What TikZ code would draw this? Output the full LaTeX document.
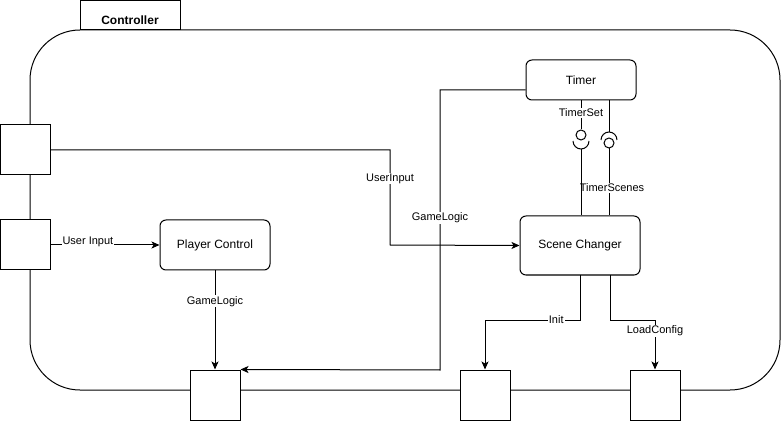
\documentclass[tikz,border=0pt]{standalone}
\usepackage{fontspec}
\setmainfont{Liberation Sans}
\usetikzlibrary{arrows.meta}

\tikzset{
    port/.style={draw, fill=white, minimum size=50pt, inner sep=0pt},
    part/.style={draw, fill=white, rounded corners=6pt, inner sep=0pt, font=\fontsize{12}{14}\selectfont},
    lbl/.style={fill=white, inner sep=1pt, font=\fontsize{11}{13}\selectfont},
    ball/.style={draw, circle, fill=white, minimum size=10pt, inner sep=0pt}
}

\begin{document}
\begin{tikzpicture}[x=1pt, y=-1pt, line width=1pt, >={Stealth[length=8pt,width=7pt,inset=2pt]}]
            \useasboundingbox (0,0) rectangle (782,422);

            % the controller frame with its tab
            \draw [rounded corners=50pt] (400,30) -- (780,30) -- (780,390) -- (30,390) -- (30,30) -- cycle;
            \draw (80,0.5) rectangle (180,30);
            \node [font=\bfseries\fontsize{12}{14}\selectfont] (title) at (130,20) {Controller};

            \node [port] (in1) at (25.5,150) {};
            \node [port] (in2) at (25.5,245) {};
            \node [port] (out1) at (215,395) {};
            \node [port] (out2) at (485,395) {};
            \node [port] (out3) at (655,395) {};

            \node [part, minimum width=110pt, minimum height=50pt] (player) at (215,245) {Player Control};
            \node [part, minimum width=120pt, minimum height=59pt] (scene) at (580,245.5) {Scene Changer};
            \node [part, minimum width=110pt, minimum height=40pt] (timer) at (581,80) {Timer};

            \draw [->] (in2) -- node [lbl, pos=.34, yshift=3pt] {User Input} (player);
            \draw [->] (in1.east) -- (390,150) -- node [lbl, pos=.3] {UserInput} (390,245) -- (scene.west);
            \draw [->] ([yshift=-10pt]timer.west) -- (440,90) -- node [lbl, pos=.457] {GameLogic} (440,370) -- (out1.north east);
            \draw [->] (player) -- node [lbl, pos=.31] {GameLogic} (out1);
            \draw [->] (scene.south) -- (580,320) -- node [lbl, pos=.25] {Init} (485,320) -- (out2.north);
            \draw [->] ([xshift=30pt]scene.south) -- (610,320) -- (655,320) -- node [lbl, pos=.22] {LoadConfig} (out3.north);

            % timer interfaces
            \node [ball] (setball) at (581,135) {};
            \node [ball] (sceneball) at (609,143) {};
            \coordinate (setcup) at (581,149);
            \coordinate (scenecup) at (609,132);
            \draw (573,141) arc (180:0:8);
            \draw (601,140) arc (180:360:8);

            \draw ([xshift=28pt]timer.south) -- (scenecup);
            \draw (sceneball) -- node [lbl, pos=.59, xshift=3pt] {TimerScenes} (sceneball |- scene.north);
            \draw (timer.south) -- node [lbl, pos=.42] {TimerSet} (setball);
            \draw (setcup) -- (setcup |- scene.north);
        \end{tikzpicture}
\end{document}
